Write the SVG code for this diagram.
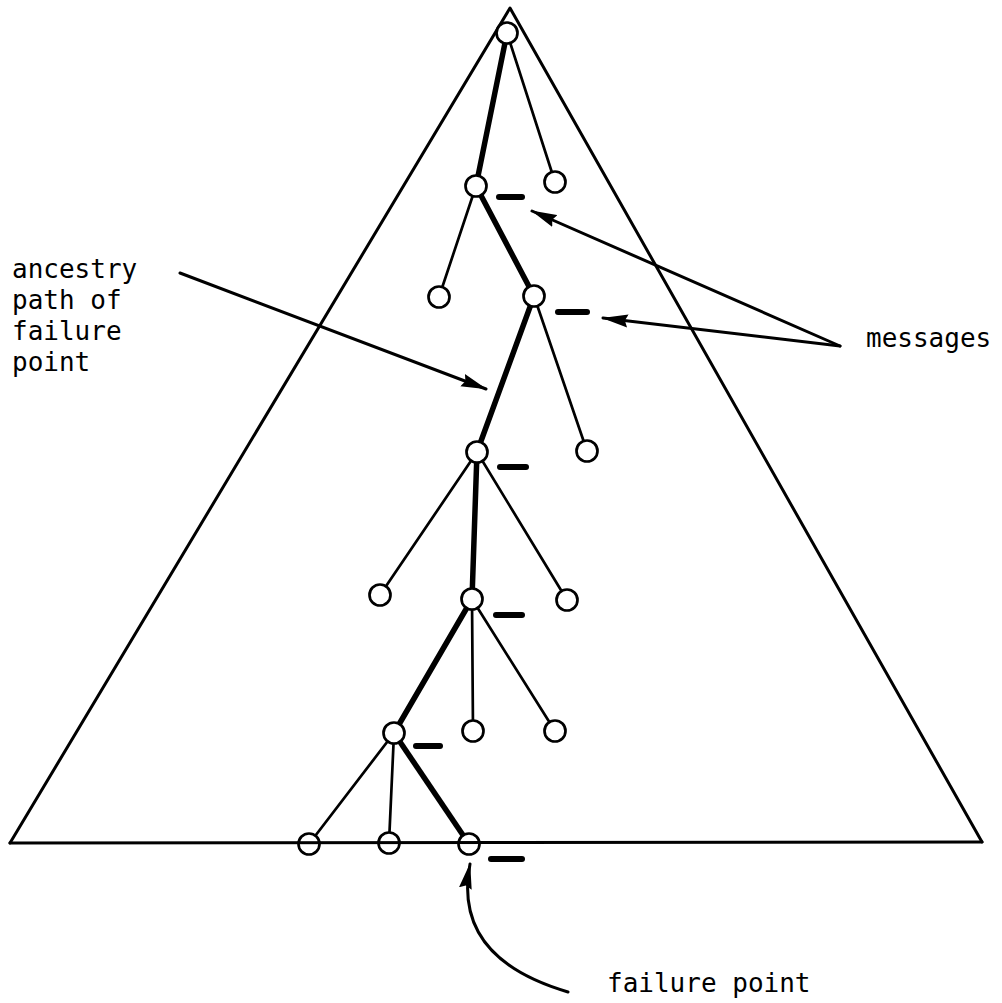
<svg xmlns="http://www.w3.org/2000/svg" width="1002" height="1003" viewBox="0 0 1002 1003">
<style>
.frame{stroke:#000;stroke-width:3;fill:none;stroke-linecap:round;stroke-linejoin:round}
.thin{stroke:#000;stroke-width:2.7;fill:none;stroke-linecap:round}
.thick{stroke:#000;stroke-width:5.5;fill:none;stroke-linecap:round}
.msg{stroke:#000;stroke-width:6;stroke-linecap:round}
.arrow{stroke:#000;stroke-width:3;fill:none;stroke-linecap:round}
.node{fill:#fff;stroke:#000;stroke-width:2.7}
text{font-family:"DejaVu Sans Mono","Liberation Mono",monospace;font-size:26px;fill:#000}
</style>
<defs>
<marker id="ah" viewBox="0 0 26 14" refX="25" refY="7" markerWidth="26" markerHeight="14" markerUnits="userSpaceOnUse" orient="auto">
<path d="M0,0.5 L26,7 L0,13.5 L3,7 Z" fill="#000"/>
</marker>
</defs>
<rect width="1002" height="1003" fill="#fff"/>
<g id="triangle">
<path class="frame" d="M10,843 L510,8 L982,842"/>
</g>
<g id="connectors">
<line class="thick" x1="507" y1="33" x2="476" y2="186"/>
<line class="thin" x1="507" y1="33" x2="555" y2="182"/>
<line class="thin" x1="476" y1="186" x2="439" y2="297"/>
<line class="thick" x1="476" y1="186" x2="534" y2="296"/>
<line class="thick" x1="534" y1="296" x2="477" y2="452"/>
<line class="thin" x1="534" y1="296" x2="587" y2="451"/>
<line class="thin" x1="477" y1="452" x2="380" y2="595"/>
<line class="thick" x1="477" y1="452" x2="472" y2="599"/>
<line class="thin" x1="477" y1="452" x2="567" y2="600"/>
<line class="thick" x1="472" y1="599" x2="394" y2="733"/>
<line class="thin" x1="472" y1="599" x2="473" y2="731"/>
<line class="thin" x1="472" y1="599" x2="555" y2="731"/>
<line class="thin" x1="394" y1="733" x2="309" y2="844"/>
<line class="thin" x1="394" y1="733" x2="389" y2="843"/>
<line class="thick" x1="394" y1="733" x2="469" y2="844"/>
</g>
<g id="nodes">
<circle id="n0" class="node" cx="507" cy="33" r="10.5"/>
<circle id="n1" class="node" cx="476" cy="186" r="10.5"/>
<circle id="n2" class="node" cx="555" cy="182" r="10.5"/>
<circle id="n3" class="node" cx="439" cy="297" r="10.5"/>
<circle id="n4" class="node" cx="534" cy="296" r="10.5"/>
<circle id="n5" class="node" cx="477" cy="452" r="10.5"/>
<circle id="n6" class="node" cx="587" cy="451" r="10.5"/>
<circle id="n7" class="node" cx="380" cy="595" r="10.5"/>
<circle id="n8" class="node" cx="472" cy="599" r="10.5"/>
<circle id="n9" class="node" cx="567" cy="600" r="10.5"/>
<circle id="n10" class="node" cx="394" cy="733" r="10.5"/>
<circle id="n11" class="node" cx="473" cy="731" r="10.5"/>
<circle id="n12" class="node" cx="555" cy="731" r="10.5"/>
<circle id="n13" class="node" cx="309" cy="844" r="10.5"/>
<circle id="n14" class="node" cx="389" cy="843" r="10.5"/>
<circle id="n15" class="node" cx="469" cy="844" r="10.5"/>
</g>
<g id="baseline">
<line class="frame" x1="10" y1="843" x2="982" y2="842" stroke-width="2.7"/>
</g>
<g id="messages">
<line class="msg" x1="499" y1="197" x2="522" y2="197"/>
<line class="msg" x1="558" y1="312" x2="587" y2="312"/>
<line class="msg" x1="500" y1="467" x2="526" y2="467"/>
<line class="msg" x1="496" y1="615" x2="522" y2="615"/>
<line class="msg" x1="416" y1="746" x2="440" y2="746"/>
<line class="msg" x1="491" y1="859" x2="522" y2="859"/>
</g>
<g id="arrows">
<line class="arrow" x1="840" y1="346" x2="532" y2="211" marker-end="url(#ah)"/>
<line class="arrow" x1="840" y1="346" x2="603" y2="318" marker-end="url(#ah)"/>
<line class="arrow" x1="180" y1="273" x2="486" y2="389" marker-end="url(#ah)"/>
<path class="arrow" d="M568,992 Q452,958 470,864" marker-end="url(#ah)"/>
</g>
<g id="labels">
<text x="12" y="278">ancestry</text>
<text x="12" y="309">path of</text>
<text x="12" y="340">failure</text>
<text x="12" y="371">point</text>
<text x="866" y="347">messages</text>
<text x="607" y="992">failure point</text>
</g>
</svg>
